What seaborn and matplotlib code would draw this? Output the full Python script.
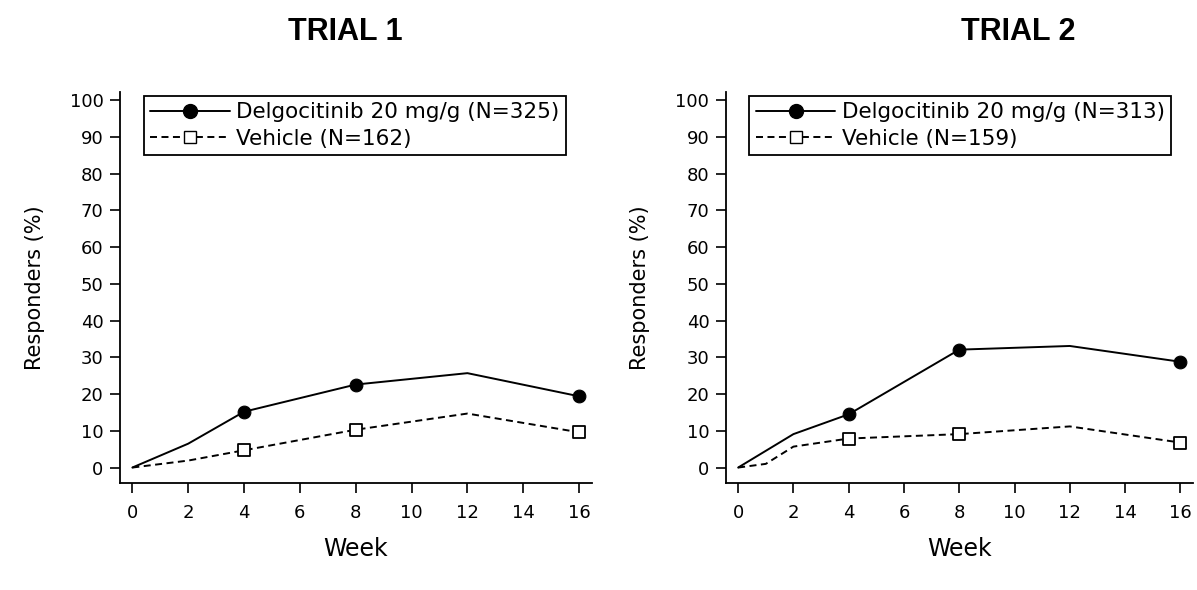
import matplotlib
matplotlib.use('Agg')
from matplotlib import pyplot as plt
from matplotlib.lines import Line2D
import seaborn as sns

# --
# Data

weeks_t1_d = [0, 2, 4, 8, 12, 16]
delgo_t1 = [0, 6.5, 15.2, 22.6, 25.7, 19.4]
weeks_t1_v = [0, 2, 4, 8, 12, 16]
vehicle_t1 = [0, 1.9, 4.7, 10.3, 14.7, 9.6]

weeks_t2_d = [0, 2, 4, 8, 12, 16]
delgo_t2 = [0, 9.1, 14.5, 32.1, 33.1, 28.8]
weeks_t2_v = [0, 1, 2, 4, 8, 12, 16]
vehicle_t2 = [0, 1.0, 5.7, 7.9, 9.1, 11.2, 6.8]

marker_weeks = [4, 8, 16]
titles = ['TRIAL 1', 'TRIAL 2']
labels_d = ['Delgocitinib 20 mg/g (N=325)', 'Delgocitinib 20 mg/g (N=313)']
labels_v = ['Vehicle (N=162)', 'Vehicle (N=159)']

# --
# Plot

sns.set_style('ticks')
plt.rcParams['font.family'] = ['DejaVu Sans']
for k in ['text.color', 'axes.labelcolor', 'xtick.color', 'ytick.color', 'axes.edgecolor']:
    plt.rcParams[k] = 'black'

fig = plt.figure(figsize=(11.97, 5.9), dpi=100)
axes = [fig.add_axes([0.1003, 0.1814, 0.3940, 0.663]),
        fig.add_axes([0.6065, 0.1814, 0.3900, 0.663])]
title_x = [345 / 1197, 1018 / 1197]

series = [(weeks_t1_d, delgo_t1, weeks_t1_v, vehicle_t1),
          (weeks_t2_d, delgo_t2, weeks_t2_v, vehicle_t2)]

dash = (0, (3.6, 2.3))
lw = 1.4

for i, ax in enumerate(axes):
    wd, yd, wv, yv = series[i]
    sns.lineplot(x=wd, y=yd, ax=ax, color='black', lw=lw, zorder=2)
    sns.lineplot(x=wv, y=yv, ax=ax, color='black', lw=lw, linestyle=dash, zorder=2)

    md = [y for w, y in zip(wd, yd) if w in marker_weeks]
    mv = [y for w, y in zip(wv, yv) if w in marker_weeks]
    sns.scatterplot(x=marker_weeks, y=md, ax=ax, marker='o', s=85,
                    color='black', edgecolor='black', zorder=3)
    sns.scatterplot(x=marker_weeks, y=mv, ax=ax, marker='s', s=72,
                    facecolor='white', edgecolor='black', linewidth=1.3, zorder=3)

    ax.set_xlim(-0.44, 16.45)
    ax.set_ylim(-4.2, 102.3)
    ax.set_xticks(range(0, 17, 2))
    ax.set_yticks(range(0, 101, 10))
    ax.tick_params(labelsize=13, length=7, width=1.2)
    ax.tick_params(axis='x', pad=8)
    ax.tick_params(axis='y', pad=5)
    for s in ['left', 'bottom']:
        ax.spines[s].set_linewidth(1.3)
    sns.despine(ax=ax)
    ax.set_xlabel('Week', fontsize=17, labelpad=11)
    ax.set_ylabel('Responders (%)', fontsize=15, labelpad=18)
    fig.text(title_x[i], 0.946, titles[i], fontsize=22, fontweight='bold',
             family=['Liberation Sans', 'DejaVu Sans'], ha='center', va='center')

    handles = [Line2D([0], [0], color='black', lw=lw, marker='o', markersize=10),
               Line2D([0], [0], color='black', lw=lw, linestyle=dash, marker='s',
                      markersize=9, markerfacecolor='white', markeredgecolor='black')]
    leg = ax.legend(handles, [labels_d[i], labels_v[i]], loc='upper left',
                    bbox_to_anchor=(0.05, 0.99), fontsize=15.5, handlelength=3.7,
                    frameon=True, fancybox=False, borderpad=0.3, labelspacing=0.3,
                    handletextpad=0.3, borderaxespad=0)
    leg.get_frame().set_edgecolor('black')
    leg.get_frame().set_linewidth(1.3)
    leg.get_frame().set_alpha(1)

fig.savefig('out.png', dpi=100)
